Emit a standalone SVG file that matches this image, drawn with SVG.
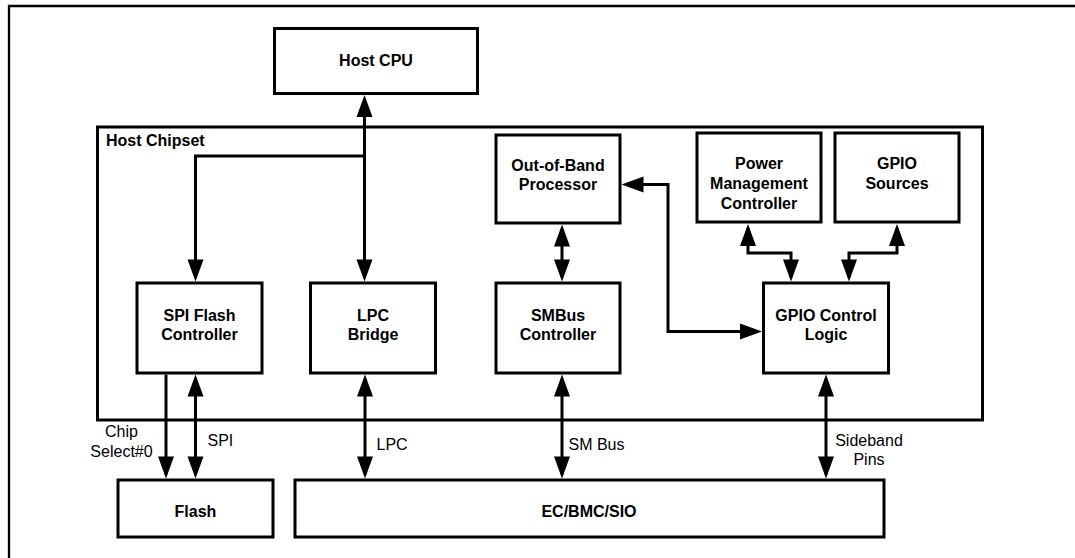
<svg xmlns="http://www.w3.org/2000/svg" width="1075" height="558" viewBox="0 0 1075 558">
<style>
.box{fill:#fff;stroke:#000;stroke-width:3}
.frame{fill:none;stroke:#000;stroke-width:2.3}
.b{font-family:"Liberation Sans",Arial,sans-serif;font-size:16px;font-weight:bold;fill:#000;text-anchor:middle}
.r{font-family:"Liberation Sans",Arial,sans-serif;font-size:16px;fill:#000;text-anchor:middle}
.c{fill:none;stroke:#000;stroke-width:3}
</style>
<defs>
<marker id="ah" markerUnits="userSpaceOnUse" markerWidth="22" markerHeight="16" refX="18" refY="8" orient="auto-start-reverse" overflow="visible">
<path d="M0,0 L22,8 L0,16 z" fill="#000"/>
</marker>
</defs>
<rect width="1075" height="558" fill="#fff"/>
<path class="frame" d="M9,558 V6 H1075"/>
<g id="host-chipset">
<rect class="box" x="97.5" y="127" width="885" height="293" fill="none"/>
<text class="b" x="106" y="146" text-anchor="start" style="text-anchor:start">Host Chipset</text>
</g>
<g id="host-cpu">
<rect class="box" x="274.5" y="28.5" width="203" height="65"/>
<text class="b" x="376" y="66">Host CPU</text>
</g>
<g id="oob-processor">
<rect class="box" x="496" y="135" width="124" height="88"/>
<text class="b" x="558" y="171">Out-of-Band</text>
<text class="b" x="558" y="190">Processor</text>
</g>
<g id="power-management-controller">
<rect class="box" x="697" y="133" width="124" height="89"/>
<text class="b" x="759" y="168.5">Power</text>
<text class="b" x="759" y="188.5">Management</text>
<text class="b" x="759" y="208.5">Controller</text>
</g>
<g id="gpio-sources">
<rect class="box" x="835" y="133" width="124" height="89"/>
<text class="b" x="897" y="168.5">GPIO</text>
<text class="b" x="897" y="188.5">Sources</text>
</g>
<g id="spi-flash-controller">
<rect class="box" x="137" y="283" width="125" height="90"/>
<text class="b" x="199.5" y="321">SPI Flash</text>
<text class="b" x="199.5" y="339.5">Controller</text>
</g>
<g id="lpc-bridge">
<rect class="box" x="310.5" y="283" width="125" height="90"/>
<text class="b" x="373" y="321">LPC</text>
<text class="b" x="373" y="339.5">Bridge</text>
</g>
<g id="smbus-controller">
<rect class="box" x="496" y="283" width="124" height="90"/>
<text class="b" x="558" y="321">SMBus</text>
<text class="b" x="558" y="339.5">Controller</text>
</g>
<g id="gpio-control-logic">
<rect class="box" x="763.5" y="283" width="125" height="90"/>
<text class="b" x="826" y="321">GPIO Control</text>
<text class="b" x="826" y="339.5">Logic</text>
</g>
<g id="flash">
<rect class="box" x="118" y="480" width="155" height="57"/>
<text class="b" x="195.5" y="517">Flash</text>
</g>
<g id="ec-bmc-sio">
<rect class="box" x="295" y="480" width="589" height="57"/>
<text class="b" x="589" y="517">EC/BMC/SIO</text>
</g>
<g id="connectors">
<path class="c" d="M364.5,99 V277.5" marker-start="url(#ah)" marker-end="url(#ah)"/>
<path class="c" d="M364.5,156 H195.5 V277.5" marker-end="url(#ah)"/>
<path class="c" d="M562,228.5 V277.5" marker-start="url(#ah)" marker-end="url(#ah)"/>
<path class="c" d="M758,331.5 H668 V184.5 H625.5" marker-start="url(#ah)" marker-end="url(#ah)"/>
<path class="c" d="M748,228 V253 H791 V277.5" marker-start="url(#ah)" marker-end="url(#ah)"/>
<path class="c" d="M897,228 V253 H849 V277.5" marker-start="url(#ah)" marker-end="url(#ah)"/>
<path class="c" d="M166,374.5 V474.5" marker-end="url(#ah)"/>
<path class="c" d="M195.5,378.5 V474.5" marker-start="url(#ah)" marker-end="url(#ah)"/>
<path class="c" d="M365,378.5 V474.5" marker-start="url(#ah)" marker-end="url(#ah)"/>
<path class="c" d="M562,378.5 V474.5" marker-start="url(#ah)" marker-end="url(#ah)"/>
<path class="c" d="M826,378.5 V474.5" marker-start="url(#ah)" marker-end="url(#ah)"/>
</g>
<g id="labels">
<text class="r" x="121.5" y="437">Chip</text>
<text class="r" x="121.5" y="457">Select#0</text>
<text class="r" x="207.5" y="446" style="text-anchor:start">SPI</text>
<text class="r" x="376.5" y="450" style="text-anchor:start">LPC</text>
<text class="r" x="568.5" y="450" style="text-anchor:start">SM Bus</text>
<text class="r" x="869" y="446">Sideband</text>
<text class="r" x="869" y="465">Pins</text>
</g>
</svg>
